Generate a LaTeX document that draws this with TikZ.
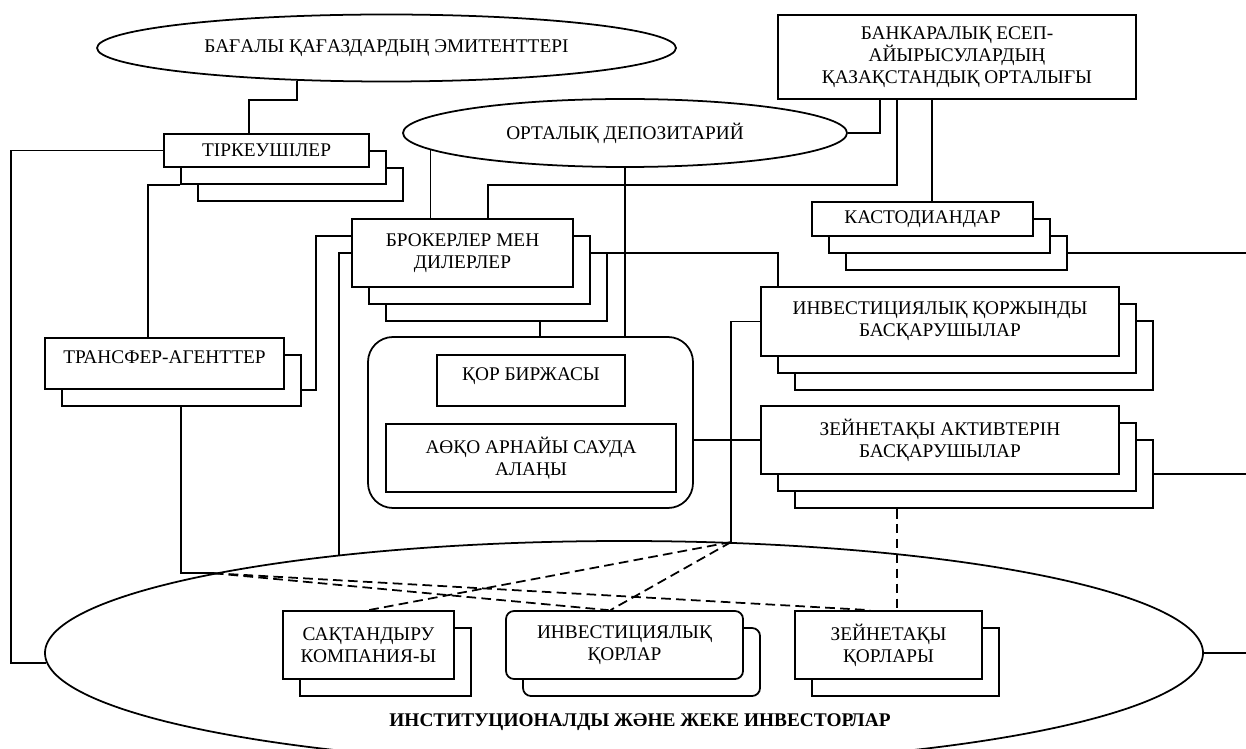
\documentclass[tikz,border=0pt]{standalone}
\usepackage{fontspec}
\setmainfont{Liberation Serif}
\usetikzlibrary{shapes.geometric,shadows}

\begin{document}
\begin{tikzpicture}[x=0.2mm,y=-0.2mm,font=\fontsize{11}{12.5}\selectfont,line width=1pt,
  bx/.style={draw,fill=white,align=center,inner sep=1pt},
  el/.style={draw,fill=white,ellipse,inner sep=0pt},
  sha/.style={copy shadow={shadow xshift=3.4mm,shadow yshift=-3.4mm,draw,fill=white}},
  shb/.style={copy shadow={shadow xshift=6.8mm,shadow yshift=-6.8mm,draw,fill=white},
    copy shadow={shadow xshift=3.4mm,shadow yshift=-3.4mm,draw,fill=white}},
  hi/.style={text height=8pt,text depth=8.4pt},
  dsh/.style={dash pattern=on 5.5pt off 3pt}]
  \clip (0,0) rectangle (1246,749);
  \coordinate (lft) at (11,0);
  \coordinate (rgt) at (1246,0);
  \node[el,fill=none,minimum width=231.6mm,minimum height=44.8mm](inv) at (624,653){};
  \node[font=\fontsize{11}{12.5}\selectfont\bfseries](lbl) at (640,722){ИНСТИТУЦИОНАЛДЫ ЖӘНЕ ЖЕКЕ ИНВЕСТОРЛАР};
  \node[el,minimum width=115.8mm,minimum height=13.4mm](emt) at (386.5,48){БАҒАЛЫ ҚАҒАЗДАРДЫҢ ЭМИТЕНТТЕРІ};
  \node[el,minimum width=88.8mm,minimum height=13.6mm](dep) at (625,133){ОРТАЛЫҚ ДЕПОЗИТАРИЙ};
  \node[bx,minimum width=71.6mm,minimum height=16.8mm](kcc) at (957,57){БАНКАРАЛЫҚ ЕСЕП-\\АЙЫРЫСУЛАРДЫҢ\\ҚАЗАҚСТАНДЫҚ ОРТАЛЫҒЫ};
  \node[bx,shb,minimum width=41mm,minimum height=6.6mm](reg) at (266.5,150.5){ТІРКЕУШІЛЕР};
  \node[bx,shb,minimum width=44.2mm,minimum height=6.8mm](cst) at (922.5,219){КАСТОДИАНДАР};
  \node[bx,shb,minimum width=44.2mm,minimum height=13.6mm](brk) at (462.5,253){БРОКЕРЛЕР МЕН\\ДИЛЕРЛЕР};
  \node[bx,sha,hi,minimum width=47.8mm,minimum height=10.2mm](trf) at (164.5,363.5){ТРАНСФЕР-АГЕНТТЕР};
  \node[bx,shb,minimum width=71.6mm,minimum height=13.8mm](ipm) at (940,321.5){ИНВЕСТИЦИЯЛЫҚ ҚОРЖЫНДЫ\\БАСҚАРУШЫЛАР};
  \node[bx,shb,minimum width=71.6mm,minimum height=13.6mm](pam) at (940,440){ЗЕЙНЕТАҚЫ АКТИВТЕРІН\\БАСҚАРУШЫЛАР};
  \node[bx,rounded corners=5mm,minimum width=65mm,minimum height=34.2mm](grp) at (530.5,422.5){};
  \node[bx,hi,minimum width=37.6mm,minimum height=10.2mm](kse) at (531,380.5){ҚОР БИРЖАСЫ};
  \node[bx,minimum width=58mm,minimum height=13.6mm](stp) at (531,458){АӨҚО АРНАЙЫ САУДА\\АЛАҢЫ};
  \node[bx,sha,minimum width=34.2mm,minimum height=13.6mm](ins) at (368.5,645){САҚТАНДЫРУ\\КОМПАНИЯ-Ы};
  \node[bx,sha,rounded corners=1.6mm,minimum width=47.4mm,minimum height=13.6mm](ifd) at (624.5,645){ИНВЕСТИЦИЯЛЫҚ\\ҚОРЛАР};
  \node[bx,sha,minimum width=37.4mm,minimum height=13.6mm](pfd) at (888.5,645){ЗЕЙНЕТАҚЫ\\ҚОРЛАРЫ};
  \coordinate (brkb) at ([shift={(77.5,34)}]brk.south);
  \coordinate (cstt) at ([shift={(9.5,0)}]cst.north);
  \coordinate (cstr) at ([shift={(34,34)}]cst.east);
  \coordinate (pamr) at ([shift={(34,34)}]pam.east);
  \coordinate (pamb) at ([shift={(-43,34)}]pam.south);
  \draw (emt.200.3) -- ++(0,19) -| ([shift={(-17.5,0)}]reg.north);
  \draw (reg.west) -| (lft |- inv.181) -- (inv.181);
  \draw ([shift={(17,17)}]reg.south west) -| ([shift={(-16.5,0)}]trf.north);
  \draw ([shift={(17,0)}]trf.south east) -| ([shift={(-35,-17)}]brk.west) -- ([shift={(0,-17)}]brk.west);
  \draw ([shift={(16.5,17)}]trf.south) |- (inv.169.8);
  \draw (brk.west) -| (inv.161.4);
  \draw (dep.185.5) -- (dep.185.5 |- brk.north);
  \draw (dep.south) -- (dep.south |- grp.north);
  \draw (dep.east) -| ([shift={(-77,0)}]kcc.south);
  \draw ([shift={(-60,0)}]kcc.south) -- ++(0,85) -| ([shift={(25.5,0)}]brk.north);
  \draw (cstt) -- (cstt |- kcc.south);
  \draw (cstr) -- (cstr -| rgt);
  \draw ([shift={(17,0)}]brk.east) -| ([shift={(-162,0)}]ipm.north);
  \draw (brkb) -- (brkb |- grp.north);
  \draw (ipm.west) -| (inv.46.9);
  \draw (pam.west) -- (pam.west -| grp.east);
  \draw (pamr) -- (pamr -| rgt);
  \draw (inv.0.8) -- (inv.0.8 -| rgt);
  \draw[dsh] (pamb) -- (pamb |- pfd.north);
  \draw[dsh] (inv.169.8) -- ([shift={(-16,0)}]ifd.north);
  \draw[dsh] (inv.169.8) -- ([shift={(-18.5,0)}]pfd.north);
  \draw[dsh] (inv.46.9) -- (ins.north);
  \draw[dsh] (inv.46.9) -- ([shift={(-14,0)}]ifd.north);
\end{tikzpicture}
\end{document}
